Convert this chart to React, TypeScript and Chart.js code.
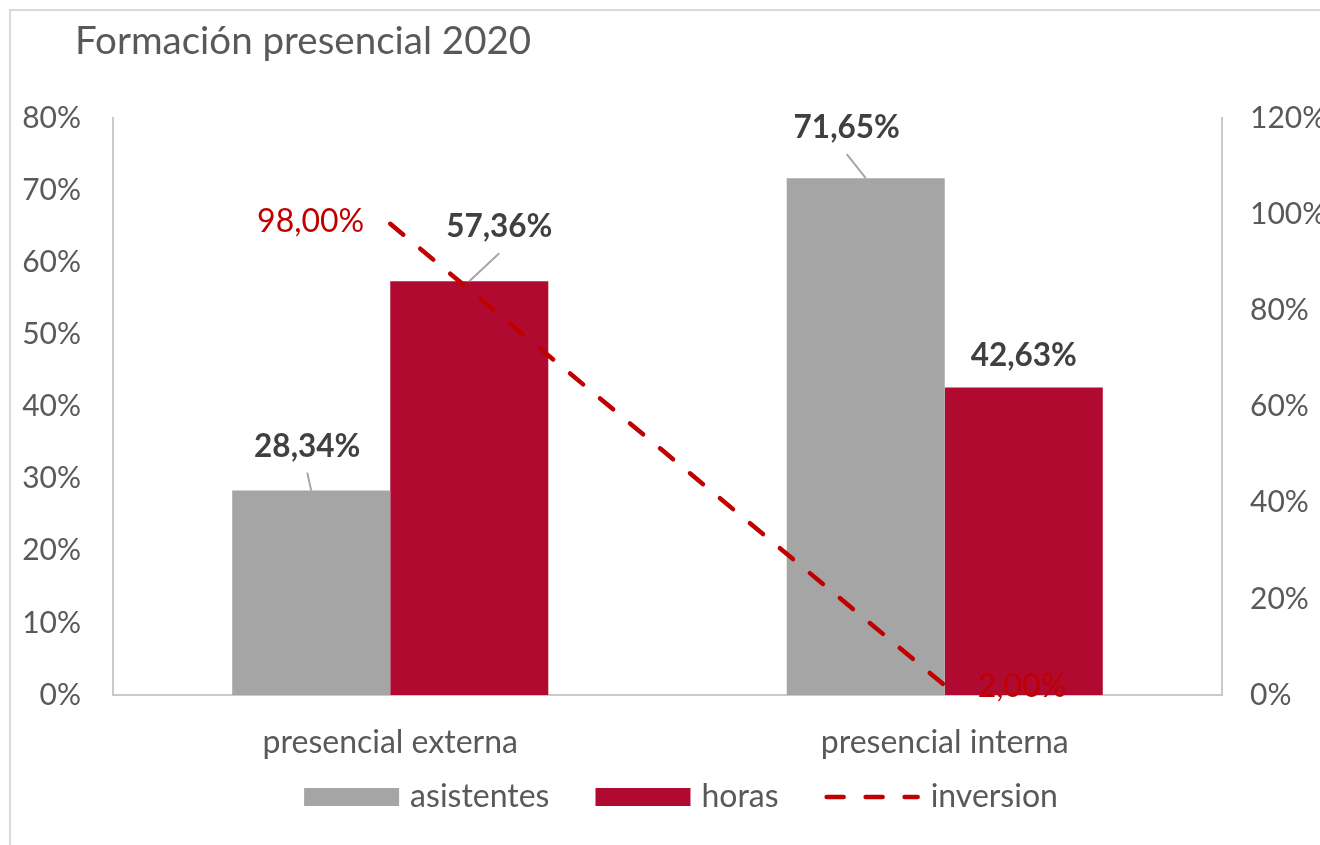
import React, { useEffect, useRef } from 'react';
import { Chart, registerables } from 'chart.js';

Chart.register(...registerables);

// ---- data ----
const chartTitle = 'Formación presencial 2020';
const categories = ['presencial externa', 'presencial interna'];
const seriesNames = ['asistentes', 'horas', 'inversion'];
const asistentes = [28.34, 71.65];
const horas = [57.36, 42.63];
const inversion = [98.0, 2.0];
const leftAxis = { min: 0, max: 80, step: 10 };
const rightAxis = { min: 0, max: 120, step: 20 };

// ---- styles ----
const FONT = 'Lato, "Noto Sans", sans-serif';
const TEXT = '#595959';
const GRAY = '#A5A5A5';
const CRIMSON = '#B00A30';
const LINE_RED = '#C00000';
const AXIS = '#C9C9C9';
const TICK_SIZE = 30;
const CAT_SIZE = 32;
const LEGEND_SIZE = 32;
const BAR_LABEL_SIZE = 31.5;
const LINE_LABEL_SIZE = 32;
const TITLE_SIZE = 38.5;

// label placement relative to the bar top (dx, dy of label centre), with optional leader line
const barLabelPlacement = [
  [{ dx: -4, dy: -44, leader: true }, { dx: -19, dy: -50, leader: true }],
  [{ dx: 30, dy: -54, leader: true }, { dx: 0, dy: -32, leader: false }],
];
const lineLabelPlacement = ['left', 'right'];

const fmt = (v: number) => v.toFixed(2).replace('.', ',') + '%';

const labelsPlugin = {
  id: 'customLabels',
  afterDatasetsDraw(chart: any) {
    const ctx = chart.ctx as CanvasRenderingContext2D;
    ctx.save();
    // bar labels
    [0, 1].forEach((di) => {
      const meta = chart.getDatasetMeta(di);
      const values = chart.data.datasets[di].data as number[];
      meta.data.forEach((bar: any, i: number) => {
        const p = barLabelPlacement[di][i];
        const lx = bar.x + p.dx;
        const ly = bar.y + p.dy;
        if (p.leader) {
          ctx.strokeStyle = '#A6A6A6';
          ctx.lineWidth = 2;
          ctx.setLineDash([]);
          ctx.beginPath();
          ctx.moveTo(bar.x, bar.y);
          ctx.lineTo(lx, ly + 26);
          ctx.stroke();
        }
        ctx.font = `bold ${BAR_LABEL_SIZE}px ${FONT}`;
        ctx.fillStyle = '#404040';
        ctx.textAlign = 'center';
        ctx.textBaseline = 'middle';
        ctx.fillText(fmt(values[i]), lx, ly);
      });
    });
    // line labels
    const lmeta = chart.getDatasetMeta(2);
    const lvals = chart.data.datasets[2].data as number[];
    lmeta.data.forEach((pt: any, i: number) => {
      ctx.font = `normal ${LINE_LABEL_SIZE}px ${FONT}`;
      ctx.fillStyle = LINE_RED;
      ctx.textBaseline = 'middle';
      if (lineLabelPlacement[i] === 'left') {
        ctx.textAlign = 'right';
        ctx.fillText(fmt(lvals[i]), pt.x - 26, pt.y - 2);
      } else {
        ctx.textAlign = 'left';
        ctx.fillText(fmt(lvals[i]), pt.x + 33, pt.y + 1);
      }
    });
    ctx.restore();
  },
  afterDraw(chart: any) {
    const ctx = chart.ctx as CanvasRenderingContext2D;
    ctx.save();
    // title
    ctx.font = `normal ${TITLE_SIZE}px ${FONT}`;
    ctx.fillStyle = TEXT;
    ctx.textAlign = 'left';
    ctx.textBaseline = 'alphabetic';
    ctx.fillText(chartTitle, 64, 43);

    // legend
    const boxW = 95;
    const boxH = 18;
    const gapText = 11;
    const gapItem = 46;
    ctx.font = `normal ${LEGEND_SIZE}px ${FONT}`;
    const widths = seriesNames.map((n) => boxW + gapText + ctx.measureText(n).width);
    const total = widths.reduce((a, b) => a + b, 0) + gapItem * (widths.length - 1);
    const cx = 670;
    const cy = 786;
    let x = cx - total / 2;
    const swatch = [GRAY, CRIMSON, LINE_RED];
    seriesNames.forEach((n, i) => {
      if (i < 2) {
        ctx.fillStyle = swatch[i];
        ctx.fillRect(x, cy - boxH / 2, boxW, boxH);
      } else {
        ctx.strokeStyle = swatch[i];
        ctx.lineWidth = 4.5;
        ctx.lineCap = 'round';
        ctx.setLineDash([17, 22]);
        ctx.beginPath();
        ctx.moveTo(x + 2, cy);
        ctx.lineTo(x + boxW - 2, cy);
        ctx.stroke();
        ctx.setLineDash([]);
      }
      ctx.fillStyle = TEXT;
      ctx.textAlign = 'left';
      ctx.textBaseline = 'middle';
      ctx.fillText(n, x + boxW + gapText, cy);
      x += widths[i] + gapItem;
    });
    ctx.restore();
  },
};

const CANVAS_W = 1400;
const CANVAS_H = 860;
const AREA = { left: 102, right: 1211, top: 107, bottom: 684 };
const X_AXIS_H = 100;

export default function App() {
  const ref = useRef<HTMLCanvasElement>(null);

  useEffect(() => {
    const canvas = ref.current;
    if (!canvas) return;
    const chart = new Chart(canvas, {
      type: 'bar',
      data: {
        labels: categories,
        datasets: [
          {
            type: 'bar',
            label: seriesNames[0],
            data: asistentes,
            backgroundColor: GRAY,
            yAxisID: 'y',
            order: 2,
            barPercentage: 1,
            categoryPercentage: 0.57,
          },
          {
            type: 'bar',
            label: seriesNames[1],
            data: horas,
            backgroundColor: CRIMSON,
            yAxisID: 'y',
            order: 2,
            barPercentage: 1,
            categoryPercentage: 0.57,
          },
          {
            type: 'line',
            label: seriesNames[2],
            data: inversion,
            borderColor: LINE_RED,
            backgroundColor: LINE_RED,
            borderWidth: 4.5,
            borderDash: [17, 22],
            borderCapStyle: 'round',
            pointRadius: 0,
            fill: false,
            tension: 0,
            yAxisID: 'y1',
            order: 0,
          } as any,
        ],
      },
      options: {
        responsive: false,
        animation: false,
        devicePixelRatio: 1,
        layout: {
          padding: { left: 0, right: 0, top: AREA.top, bottom: CANVAS_H - AREA.bottom - X_AXIS_H },
        },
        plugins: {
          legend: { display: false },
          title: { display: false },
          tooltip: { enabled: false },
        },
        scales: {
          x: {
            grid: { display: false, drawTicks: false },
            border: { display: true, color: AXIS, width: 2 },
            ticks: {
              color: TEXT,
              font: { family: FONT, size: CAT_SIZE },
              padding: 28,
            },
            afterFit: (s: any) => {
              s.height = X_AXIS_H;
            },
          },
          y: {
            position: 'left',
            min: leftAxis.min,
            max: leftAxis.max,
            grid: { display: false, drawTicks: false },
            border: { display: true, color: AXIS, width: 2 },
            ticks: {
              stepSize: leftAxis.step,
              color: TEXT,
              font: { family: FONT, size: TICK_SIZE },
              padding: 32,
              callback: (v: any) => v + '%',
            },
            afterFit: (s: any) => {
              s.width = AREA.left;
            },
          },
          y1: {
            position: 'right',
            min: rightAxis.min,
            max: rightAxis.max,
            grid: { display: false, drawTicks: false },
            border: { display: true, color: AXIS, width: 2 },
            ticks: {
              stepSize: rightAxis.step,
              color: TEXT,
              font: { family: FONT, size: TICK_SIZE },
              padding: 28,
              callback: (v: any) => v + '%',
            },
            afterFit: (s: any) => {
              s.width = CANVAS_W - AREA.right;
            },
          },
        },
      },
      plugins: [labelsPlugin],
    });
    return () => chart.destroy();
  }, []);

  return (
    <div
      style={{
        position: 'fixed',
        left: 0,
        top: 0,
        width: 1320,
        height: 845,
        overflow: 'hidden',
        background: '#fff',
      }}
    >
      <div
        style={{
          position: 'absolute',
          left: 9,
          top: 9,
          width: CANVAS_W,
          height: 900,
          border: '2px solid #D9D9D9',
          background: '#fff',
        }}
      >
        <canvas
          ref={ref}
          width={CANVAS_W}
          height={CANVAS_H}
          style={{ position: 'absolute', left: 0, top: 0, width: CANVAS_W, height: CANVAS_H }}
        />
      </div>
    </div>
  );
}
